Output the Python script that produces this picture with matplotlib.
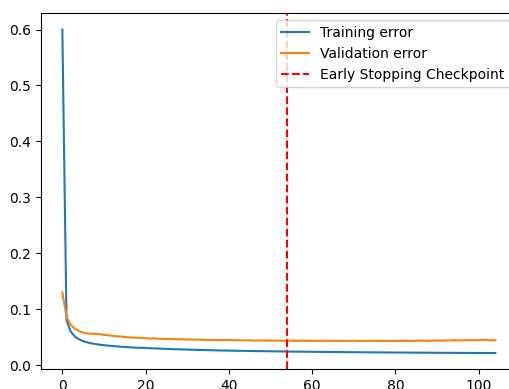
import matplotlib
matplotlib.use("Agg")
import matplotlib.pyplot as plt

# per-epoch error values
train_err = [
    0.6000, 0.0800, 0.0600, 0.0510, 0.0460, 0.0428, 0.0405, 0.0388, 0.0375, 0.0364,
    0.0355, 0.0347, 0.0340, 0.0334, 0.0328, 0.0323, 0.0318, 0.0314, 0.0310, 0.0308,
    0.0306, 0.0302, 0.0298, 0.0295, 0.0292, 0.0289, 0.0286, 0.0283, 0.0281, 0.0279,
    0.0276, 0.0274, 0.0272, 0.0270, 0.0268, 0.0266, 0.0265, 0.0263, 0.0261, 0.0260,
    0.0258, 0.0257, 0.0255, 0.0254, 0.0253, 0.0251, 0.0250, 0.0249, 0.0248, 0.0247,
    0.0246, 0.0245, 0.0244, 0.0243, 0.0242, 0.0241, 0.0240, 0.0239, 0.0238, 0.0238,
    0.0237, 0.0236, 0.0235, 0.0235, 0.0234, 0.0233, 0.0232, 0.0232, 0.0231, 0.0230,
    0.0230, 0.0229, 0.0229, 0.0228, 0.0227, 0.0227, 0.0226, 0.0226, 0.0225, 0.0225,
    0.0224, 0.0224, 0.0223, 0.0223, 0.0222, 0.0222, 0.0221, 0.0221, 0.0221, 0.0220,
    0.0220, 0.0219, 0.0219, 0.0219, 0.0218, 0.0218, 0.0217, 0.0217, 0.0217, 0.0216,
    0.0216, 0.0216, 0.0215, 0.0215, 0.0215,
]
val_err = [
    0.1300, 0.0860, 0.0720, 0.0650, 0.0610, 0.0580, 0.0565, 0.0560, 0.0558, 0.0552,
    0.0540, 0.0532, 0.0524, 0.0515, 0.0510, 0.0502, 0.0494, 0.0491, 0.0488, 0.0482,
    0.0480, 0.0474, 0.0477, 0.0471, 0.0469, 0.0465, 0.0468, 0.0462, 0.0460, 0.0461,
    0.0455, 0.0458, 0.0453, 0.0452, 0.0451, 0.0446, 0.0450, 0.0449, 0.0444, 0.0448,
    0.0447, 0.0443, 0.0446, 0.0442, 0.0441, 0.0443, 0.0437, 0.0440, 0.0441, 0.0436,
    0.0439, 0.0435, 0.0438, 0.0434, 0.0435, 0.0437, 0.0433, 0.0434, 0.0437, 0.0433,
    0.0434, 0.0432, 0.0434, 0.0436, 0.0432, 0.0433, 0.0432, 0.0434, 0.0431, 0.0433,
    0.0436, 0.0432, 0.0433, 0.0431, 0.0435, 0.0432, 0.0431, 0.0433, 0.0432, 0.0431,
    0.0433, 0.0432, 0.0436, 0.0433, 0.0431, 0.0434, 0.0437, 0.0436, 0.0432, 0.0437,
    0.0439, 0.0436, 0.0440, 0.0438, 0.0444, 0.0439, 0.0441, 0.0446, 0.0443, 0.0447,
    0.0442, 0.0455, 0.0448, 0.0441, 0.0446,
]
stop_epoch = 54

fig = plt.figure(figsize=(5.1, 3.89), dpi=100)
ax = fig.add_axes([0.0798, 0.0509, 0.934, 0.9147])

ax.plot(train_err, label="Training error")
ax.plot(val_err, label="Validation error")
ax.axvline(stop_epoch, color="r", linestyle="--", label="Early Stopping Checkpoint")
ax.legend(loc="upper right")

fig.savefig("out.png", dpi=100)
